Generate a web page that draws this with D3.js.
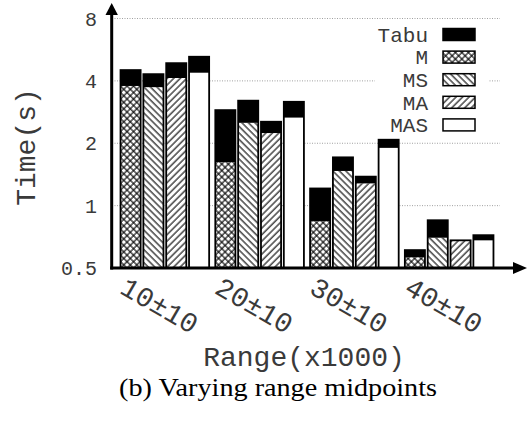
<!DOCTYPE html>
<html>
<head>
<meta charset="utf-8">
<script src="https://cdn.jsdelivr.net/npm/d3@7"></script>
<style>
  body { margin: 0; background: #fff; }
  svg { display: block; }
</style>
</head>
<body>
<svg id="chart" width="532" height="425"></svg>
<script>
const groups = ["10±10", "20±10", "30±10", "40±10"];
const methods = ["M", "MS", "MA", "MAS"];
// time before tabu (hatched part)
const baseM = [3.78, 1.62, 0.84, 0.563];
const baseMS = [3.73, 2.51, 1.47, 0.70];
const baseMA = [4.13, 2.24, 1.28, 0.68];
const baseMAS = [4.38, 2.66, 1.90, 0.68];
// total time incl. tabu (black part on top)
const totalM = [4.51, 2.89, 1.21, 0.61];
const totalMS = [4.31, 3.21, 1.71, 0.85];
const totalMA = [4.87, 2.54, 1.38, 0.68];
const totalMAS = [5.23, 3.17, 2.08, 0.72];
const yTicks = [0.5, 1, 2, 4, 8];
const legendLabels = ["Tabu", "M", "MS", "MA", "MAS"];

const base = { M: baseM, MS: baseMS, MA: baseMA, MAS: baseMAS };
const total = { M: totalM, MS: totalMS, MA: totalMA, MAS: totalMAS };
const fills = { M: "url(#cross)", MS: "url(#back)", MA: "url(#fwd)", MAS: "#fff" };

const mono = "'Liberation Mono', 'DejaVu Sans Mono', monospace";
const textCol = "#3a3a3a";
const svg = d3.select("#chart");

// patterns
const defs = svg.append("defs");
function hatch(id, angle, both) {
  const p = defs.append("pattern")
    .attr("id", id)
    .attr("patternUnits", "userSpaceOnUse")
    .attr("width", 4.6).attr("height", 4.6)
    .attr("patternTransform", `rotate(${angle})`);
  p.append("rect").attr("width", 4.6).attr("height", 4.6).attr("fill", "#fff");
  p.append("line").attr("x1", 1).attr("x2", 1).attr("y1", 0).attr("y2", 4.6)
    .attr("stroke", "#000").attr("stroke-width", 1.1);
  if (both) {
    p.append("line").attr("x1", 0).attr("x2", 4.6).attr("y1", 1).attr("y2", 1)
      .attr("stroke", "#000").attr("stroke-width", 1.1);
  }
}
hatch("cross", 45, true);
hatch("back", -45, false);
hatch("fwd", 45, false);

const x0 = 112, x1 = 502;
const x = d3.scaleBand().domain(groups).range([x0, x1]).paddingInner(0.065).paddingOuter(0.09);
const xs = d3.scaleBand().domain(methods).range([0, x.bandwidth()]).paddingInner(0.12);
const y = d3.scaleLog().base(2).domain([0.5, 8]).range([268, 18.5]);

// grid
svg.append("g").selectAll("line")
  .data(yTicks.slice(1))
  .join("line")
  .attr("x1", x0).attr("x2", 500)
  .attr("y1", d => y(d)).attr("y2", d => y(d))
  .attr("stroke", "#888").attr("stroke-width", 0.8)
  .attr("stroke-dasharray", "1,1.5");

// y tick labels
svg.append("g").selectAll("text")
  .data(yTicks)
  .join("text")
  .attr("x", 97).attr("y", d => y(d))
  .attr("dy", "0.35em")
  .attr("text-anchor", "end")
  .attr("font-family", mono).attr("font-size", 20)
  .attr("fill", textCol)
  .text(d => d);

// legend background hides the grid behind it
svg.append("rect").attr("x", 375).attr("y", 24).attr("width", 113).attr("height", 112).attr("fill", "#fff");

// bars
const gBars = svg.append("g").selectAll("g")
  .data(groups)
  .join("g")
  .attr("transform", d => `translate(${x(d)},0)`);

gBars.selectAll("g")
  .data((d, i) => methods.map(m => ({ m, b: base[m][i], t: total[m][i] })))
  .join("g")
  .each(function (d) {
    const g = d3.select(this);
    const bx = xs(d.m), bw = xs.bandwidth();
    g.append("rect")
      .attr("x", bx).attr("width", bw)
      .attr("y", y(d.b)).attr("height", y(0.5) - y(d.b))
      .attr("fill", fills[d.m]);
    if (d.t > d.b) {
      g.append("rect")
        .attr("x", bx).attr("width", bw)
        .attr("y", y(d.t)).attr("height", y(d.b) - y(d.t))
        .attr("fill", "#000");
    }
    g.append("rect")
      .attr("x", bx).attr("width", bw)
      .attr("y", y(d.t)).attr("height", y(0.5) - y(d.t))
      .attr("fill", "none").attr("stroke", "#000").attr("stroke-width", 1.8);
  });

// axes with arrows
svg.append("line").attr("x1", 111.7).attr("x2", 111.7).attr("y1", 269.5).attr("y2", 12)
  .attr("stroke", "#000").attr("stroke-width", 3);
svg.append("path").attr("d", "M105.5,15 L111.7,3 L117.9,15 Z").attr("fill", "#000");
svg.append("line").attr("x1", 110.2).attr("x2", 516).attr("y1", 268).attr("y2", 268)
  .attr("stroke", "#000").attr("stroke-width", 3);
svg.append("path").attr("d", "M513,262 L527,268 L513,274 Z").attr("fill", "#000");

// x tick labels, rotated
svg.append("g").selectAll("text")
  .data(groups)
  .join("text")
  .attr("transform", d => `translate(${x(d) + x.bandwidth() / 2 - 5},305) rotate(30)`)
  .attr("text-anchor", "middle")
  .attr("dy", "0.35em")
  .attr("font-family", mono).attr("font-size", 28)
  .attr("fill", textCol)
  .text(d => d);

// legend
const leg = svg.append("g").selectAll("g")
  .data(legendLabels)
  .join("g")
  .attr("transform", (d, i) => `translate(0,${28.5 + i * 22.6})`);
leg.append("text")
  .attr("x", 428).attr("y", 6).attr("dy", "0.35em")
  .attr("text-anchor", "end")
  .attr("font-family", mono).attr("font-size", 21)
  .attr("fill", textCol)
  .text(d => d);
leg.append("rect")
  .attr("x", 443).attr("y", 0).attr("width", 32).attr("height", 12)
  .attr("fill", d => d === "Tabu" ? "#000" : fills[d])
  .attr("stroke", "#000").attr("stroke-width", 1.5);

// axis titles
svg.append("text")
  .attr("transform", "translate(25,147) rotate(-90)")
  .attr("text-anchor", "middle").attr("dy", "0.35em")
  .attr("font-family", mono).attr("font-size", 28)
  .attr("fill", textCol)
  .text("Time(s)");
svg.append("text")
  .attr("x", 304).attr("y", 366)
  .attr("text-anchor", "middle")
  .attr("font-family", mono).attr("font-size", 28)
  .attr("fill", textCol)
  .text("Range(x1000)");

// caption
svg.append("text")
  .attr("x", 278).attr("y", 396)
  .attr("text-anchor", "middle")
  .attr("font-family", "'Liberation Serif', 'DejaVu Serif', serif").attr("font-size", 25)
  .attr("textLength", 318).attr("lengthAdjust", "spacingAndGlyphs")
  .attr("fill", "#000")
  .text("(b) Varying range midpoints");
</script>
</body>
</html>
